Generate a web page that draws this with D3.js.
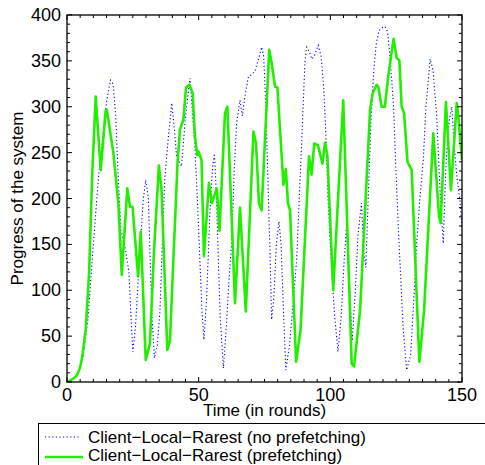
<!DOCTYPE html>
<html>
<head>
<meta charset="utf-8">
<script src="https://cdn.jsdelivr.net/npm/d3@7"></script>
<style>
  html, body { margin: 0; padding: 0; background: #fff; overflow: hidden; }
  svg { display: block; font-family: "Liberation Sans", Arial, Helvetica, sans-serif; }
</style>
</head>
<body>
<svg id="chart" width="485" height="465"></svg>
<script>
// ---- data ----
const xTicks = [0, 50, 100, 150];
const yTicks = [0, 50, 100, 150, 200, 250, 300, 350, 400];
const seriesNames = ["Client\u2212Local\u2212Rarest (no prefetching)", "Client\u2212Local\u2212Rarest (prefetching)"];

// [round, progress]
const noPrefetch = [
  [0,0],[2,2],[4,8],[6,25],[8,70],[10,150],[12,225],[13.5,265],[15,305],[16.5,329],[17.5,325],
  [18.5,290],[19.5,220],[20.5,165],[22,148],[23.5,120],[24.5,60],[25,33],[26,60],[27.7,144],
  [29,200],[29.9,220],[30.9,201],[31.5,140],[32.3,70],[33.2,26],[34.3,40],[35.3,78],[36.3,160],
  [37.2,224],[38.5,267],[39.8,304],[40.8,275],[41.6,246],[43.5,235],[45,290],[46.7,331],
  [47.5,300],[48.5,260],[49.5,200],[50.5,130],[51.2,80],[52,46],[53,90],[54.3,187],[55.3,235],
  [56,249],[56.8,200],[57.5,130],[58.2,70],[59.4,15],[60.5,60],[61.5,110],[62.5,151],[63.5,230],
  [64.4,282],[65.7,307],[66.6,290],[67.5,310],[68.9,333],[70.2,335],[71.5,340],[73,355],
  [73.9,365],[74.7,355],[75.5,300],[76.3,220],[77,150],[77.7,68],[78.5,90],[79.5,150],[80.5,175],
  [81.3,150],[82.2,78],[83.1,13],[84.5,40],[86,90],[87.2,133],[88.2,200],[89.1,260],[89.8,310],
  [90.4,351],[91,365],[92,360],[93,352],[94,356],[95.4,367],[96.5,355],[97.5,320],[98.3,270],
  [99.1,202],[100,150],[101,100],[101.7,70],[102.9,33],[104.2,75],[105.2,130],[106.1,169],
  [107,120],[108.3,45],[109.5,100],[110.5,160],[111.8,195],[112.8,140],[113.5,125],[114.5,210],
  [115.5,290],[116.5,340],[117.5,370],[118.5,383],[120,387],[120.8,387],[121.7,382],[122.5,360],
  [123.3,330],[124,300],[124.8,240],[125.8,169],[126.8,110],[127.6,60],[129,13],[130.5,30],
  [131.7,90],[132.8,151],[134,200],[135.3,242],[136.3,300],[137.9,352],[139,340],[140.4,290],
  [141.7,206],[142.9,151],[143.8,230],[144.8,278],[146.1,300],[147,260],[148,225],[149.2,198],[150,169]
];

const withPrefetch = [
  [0,0],[1,1],[2,3],[3,5],[3.9,8],[5,16],[5.8,28],[7.1,57],[8.4,119],[9.6,228],[10.9,311],
  [12.8,231],[14.7,296],[15.1,297],[17.6,250],[19.5,195],[20.8,117],[22.9,211],[23.9,191],
  [24.9,191],[27,115],[28,164],[29.9,24],[31.5,42],[33,140],[34.9,236],[35.9,210],[38.1,35],
  [39.1,45],[40.5,140],[42,240],[42.9,275],[44.2,286],[45.2,321],[46.5,324],[47.7,315],
  [48.6,267],[49.5,247],[50,251],[51.1,242],[52,137],[53.9,217],[55,195],[56.9,211],[57.9,165],
  [60,293],[60.9,300],[63.8,86],[65.7,190],[67.9,77],[70.8,273],[71.8,260],[72.9,195],[73.9,187],
  [76.8,362],[77.7,348],[79,322],[79.9,321],[82.2,215],[83.1,232],[83.9,195],[84.7,187],[87,22],
  [88.7,57],[91.9,246],[92.9,226],[93.9,260],[95.3,258],[97,238],[98,261],[98.9,246],[101.1,100],
  [104.9,307],[108.1,20],[109,17],[111.3,78],[115.1,297],[116.1,315],[117.6,324],[118.2,322],
  [119.5,300],[120.7,300],[122,333],[124,374],[125.2,353],[126.2,351],[127.1,300],[128,293],
  [129.3,240],[130.9,231],[133.8,22],[135.6,78],[139.1,271],[141.3,180],[141.9,173],[143.9,305],
  [145.8,209],[148,304],[148.7,286],[150,242]
];

// ---- layout ----
const svg = d3.select("#chart");
const L = 67, R = 462, T = 15, B = 382;
const x = d3.scaleLinear().domain([0, 150]).range([L, R]);
const y = d3.scaleLinear().domain([0, 400]).range([B, T]);

// minor ticks
const xMinor = d3.range(0, 151, 5);
const yMinor = d3.range(0, 401, 10);

const g = svg.append("g");

svg.append("clipPath").attr("id", "clip")
  .append("rect").attr("x", L).attr("y", T).attr("width", R - L).attr("height", B - T);

const line = d3.line().x(d => x(d[0])).y(d => y(d[1]));

g.append("path").datum(noPrefetch)
  .attr("clip-path", "url(#clip)")
  .attr("d", line).attr("fill", "none")
  .attr("stroke", "#0000ff").attr("stroke-width", 1.1)
  .attr("stroke-dasharray", "1.2,2.4");

g.append("path").datum(withPrefetch)
  .attr("clip-path", "url(#clip)")
  .attr("d", line).attr("fill", "none")
  .attr("stroke", "#22ee00").attr("stroke-width", 2.6)
  .attr("stroke-linejoin", "round");

// axes with inward ticks
const ax = svg.append("g").attr("stroke", "#000").attr("stroke-width", 1);
xMinor.forEach(v => {
  const len = xTicks.includes(v) ? 5 : 3;
  ax.append("line").attr("x1", x(v)).attr("x2", x(v)).attr("y1", B).attr("y2", B - len);
  ax.append("line").attr("x1", x(v)).attr("x2", x(v)).attr("y1", T).attr("y2", T + len);
});
yMinor.forEach(v => {
  const len = yTicks.includes(v) ? 5 : 3;
  ax.append("line").attr("y1", y(v)).attr("y2", y(v)).attr("x1", L).attr("x2", L + len);
  ax.append("line").attr("y1", y(v)).attr("y2", y(v)).attr("x1", R).attr("x2", R - len);
});

// frame
svg.append("rect").attr("x", L).attr("y", T).attr("width", R - L).attr("height", B - T)
  .attr("fill", "none").attr("stroke", "#000").attr("stroke-width", 1.3);

// tick labels
svg.append("g").selectAll("text").data(xTicks).join("text")
  .attr("x", d => x(d)).attr("y", B + 19)
  .attr("text-anchor", "middle").attr("font-size", 18).text(d => d);
svg.append("g").selectAll("text").data(yTicks).join("text")
  .attr("x", L - 6).attr("y", d => y(d) + 6)
  .attr("text-anchor", "end").attr("font-size", 18).text(d => d);

// axis titles
svg.append("text").attr("x", (L + R) / 2).attr("y", 416)
  .attr("text-anchor", "middle").attr("font-size", 17).text("Time (in rounds)");
svg.append("text").attr("transform", `translate(23,${(T + B) / 2}) rotate(-90)`)
  .attr("text-anchor", "middle").attr("font-size", 17).text("Progress of the system");

// legend
const lg = svg.append("g");
lg.append("rect").attr("x", 38.5).attr("y", 423.5).attr("width", 460).attr("height", 60)
  .attr("fill", "#fff").attr("stroke", "#000").attr("stroke-width", 1);
lg.append("line").attr("x1", 45).attr("x2", 81).attr("y1", 437).attr("y2", 437)
  .attr("stroke", "#0000ff").attr("stroke-width", 1.1).attr("stroke-dasharray", "1.2,2.4");
lg.append("line").attr("x1", 45).attr("x2", 83).attr("y1", 457).attr("y2", 457)
  .attr("stroke", "#22ee00").attr("stroke-width", 2.6);
lg.selectAll("text").data(seriesNames).join("text")
  .attr("x", 88).attr("y", (d, i) => 442.5 + i * 18.5)
  .attr("font-size", 17).text(d => d);
</script>
</body>
</html>
